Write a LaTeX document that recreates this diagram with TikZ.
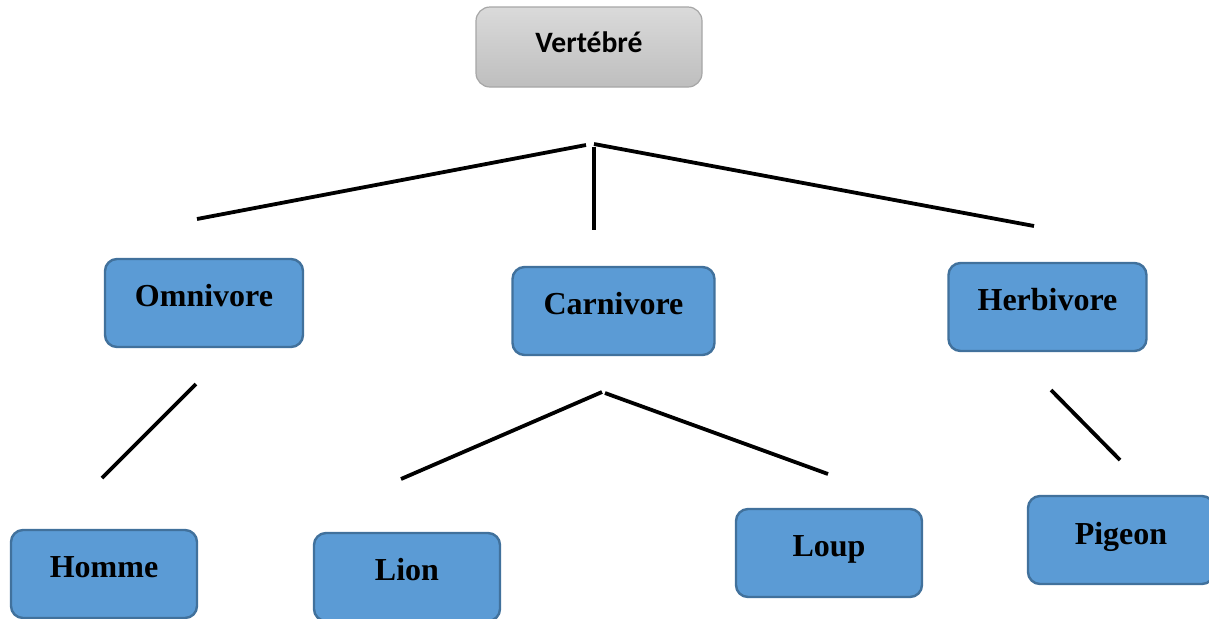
\documentclass[tikz,border=0pt]{standalone}
\usepackage{fontspec}
\setmainfont{Liberation Serif}
\newfontfamily\calib{Carlito}
\definecolor{boxfill}{HTML}{5B9BD5}
\definecolor{boxline}{HTML}{41719C}
\definecolor{graytop}{HTML}{DADADA}
\definecolor{graybot}{HTML}{BEBEBE}
\definecolor{grayline}{HTML}{A6A6A6}
\begin{document}
\begin{tikzpicture}[x=0.5pt,y=-0.5pt,
  bluebox/.style={draw=boxline, line width=1.2pt, fill=boxfill, rounded corners=6pt,
    minimum width=99pt, minimum height=44pt, inner sep=0pt,
    font=\fontsize{16}{18}\selectfont\bfseries},
  graybox/.style={draw=grayline, line width=0.6pt, top color=graytop, bottom color=graybot,
    rounded corners=7pt, minimum width=113pt, minimum height=40pt, inner sep=0pt,
    font=\calib\fontsize{14.8}{16}\selectfont\bfseries},
  link/.style={line width=1.9pt, black}]
\useasboundingbox (0,0) rectangle (1209,618);
\node[graybox] (vert) at (589,47) {\raisebox{5pt}{Vertébré}};
\node[bluebox] (omni) at (204,303) {\raisebox{7.5pt}{Omnivore}};
\node[bluebox, minimum width=101pt] (carn) at (613.5,311) {\raisebox{7.5pt}{Carnivore}};
\node[bluebox] (herb) at (1047.5,307) {\raisebox{7.5pt}{Herbivore}};
\node[bluebox, minimum width=93pt] (homme) at (104,574) {\raisebox{6.5pt}{Homme}};
\node[bluebox, minimum width=93pt] (lion) at (407,577) {\raisebox{7.5pt}{Lion}};
\node[bluebox, minimum width=93pt] (loup) at (829,553) {\raisebox{6.5pt}{Loup}};
\node[bluebox, minimum width=93pt] (pigeon) at (1121,540) {\raisebox{7pt}{Pigeon}};
% free-standing connector segments
\coordinate (t1a) at (586,145); \coordinate (t1b) at (197,219);
\coordinate (t2a) at (594,144); \coordinate (t2b) at (1034,226);
\coordinate (t3a) at (594,147); \coordinate (t3b) at (594,230);
\coordinate (o1a) at (196,384); \coordinate (o1b) at (102,478);
\coordinate (c1a) at (602,392); \coordinate (c1b) at (401,479);
\coordinate (c2a) at (605,393); \coordinate (c2b) at (828,474);
\coordinate (h1a) at (1051,390); \coordinate (h1b) at (1120,460);
\draw[link] (t1a) -- (t1b);
\draw[link] (t2a) -- (t2b);
\draw[link] (t3a) -- (t3b);
\draw[link] (o1a) -- (o1b);
\draw[link] (c1a) -- (c1b);
\draw[link] (c2a) -- (c2b);
\draw[link] (h1a) -- (h1b);
\end{tikzpicture}
\end{document}
